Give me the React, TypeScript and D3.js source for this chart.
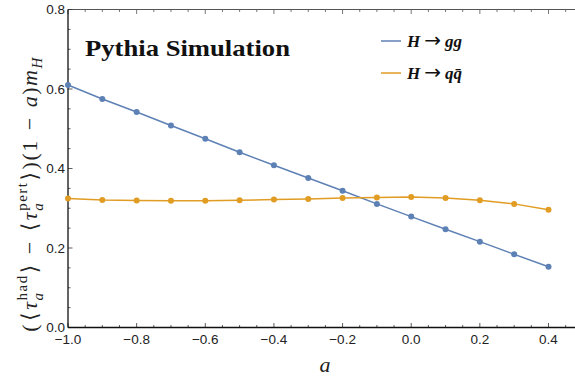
import React from "react";
import * as d3 from "d3";

const aValues = [-1.0, -0.9, -0.8, -0.7, -0.6, -0.5, -0.4, -0.3, -0.2, -0.1, 0.0, 0.1, 0.2, 0.3, 0.4];
const ggValues = [0.61, 0.575, 0.542, 0.508, 0.475, 0.441, 0.408, 0.376, 0.344, 0.311, 0.279, 0.247, 0.216, 0.184, 0.153];
const qqValues = [0.3245, 0.321, 0.3195, 0.319, 0.319, 0.32, 0.322, 0.323, 0.3255, 0.327, 0.328, 0.3255, 0.32, 0.311, 0.296];
const xTicks = [-1.0, -0.8, -0.6, -0.4, -0.2, 0.0, 0.2, 0.4];
const yTicks = [0.0, 0.2, 0.4, 0.6, 0.8];

const W = 575, H = 379;
const BLUE = "#5E81B5";
const ORANGE = "#E19C24";
const SERIF = "'Liberation Serif', 'DejaVu Serif', serif";
const SANS = "'Liberation Sans', Arial, sans-serif";

export default function App() {
  const x = d3.scaleLinear().domain([-1, 0.4]).range([68, 548.5]);
  const y = d3.scaleLinear().domain([0, 0.8]).range([327.5, 9.5]);
  const xRight = W;
  const xMinor = d3.range(-1, 0.481, 0.05).map(v => +v.toFixed(2));
  const yMinor = d3.range(0, 0.801, 0.05).map(v => +v.toFixed(2));
  const line = d3.line<number>().x((_, i) => x(aValues[i])).y(d => y(d));
  const isMajor = (v: number) => Math.abs(Math.round(v * 5) - v * 5) < 1e-6;
  const x0 = x(-1), y0 = y(0), yTop = y(0.8);

  const series = [
    { vals: ggValues, color: BLUE },
    { vals: qqValues, color: ORANGE },
  ];

  return (
    <svg width={W} height={H} style={{ position: "absolute", left: 0, top: 0, background: "#fff" }}>
      {/* top frame */}
      <line x1={x0} x2={xRight} y1={yTop} y2={yTop} stroke="#555" strokeWidth={1} />
      {xMinor.map((v, i) => (
        <line key={"tt" + i} x1={x(v)} x2={x(v)} y1={yTop} y2={yTop + (isMajor(v) ? 4.5 : 2.5)} stroke="#555" strokeWidth={0.8} />
      ))}
      {/* bottom axis */}
      {xMinor.map((v, i) => (
        <line key={"bt" + i} x1={x(v)} x2={x(v)} y1={y0} y2={y0 - (isMajor(v) ? 4.5 : 2.5)} stroke="#333" strokeWidth={0.8} />
      ))}
      {/* left axis ticks */}
      {yMinor.map((v, i) => (
        <line key={"lt" + i} x1={x0} x2={x0 + (isMajor(v) ? 4.5 : 2.5)} y1={y(v)} y2={y(v)} stroke="#333" strokeWidth={0.8} />
      ))}
      <line x1={x0} x2={xRight} y1={y0} y2={y0} stroke="#111" strokeWidth={1.3} />
      <line x1={x0} x2={x0} y1={yTop} y2={y0} stroke="#111" strokeWidth={1.3} />
      {/* tick labels */}
      {xTicks.map((v, i) => (
        <text key={"xl" + i} x={x(v)} y={y0 + 16.5} textAnchor="middle" fontFamily={SANS} fontSize={13.5} fill="#222">
          {d3.format(".1f")(v).replace("-", "\u2212")}
        </text>
      ))}
      {yTicks.map((v, i) => (
        <text key={"yl" + i} x={x0 - 3} y={y(v) + 4.5} textAnchor="end" fontFamily={SANS} fontSize={13.5} fill="#222">
          {d3.format(".1f")(v)}
        </text>
      ))}
      {/* series */}
      {series.map((s, si) => (
        <g key={"s" + si}>
          <path d={line(s.vals) || ""} fill="none" stroke={s.color} strokeWidth={1.5} />
          {s.vals.map((d, i) => (
            <circle key={i} cx={x(aValues[i])} cy={y(d)} r={3} fill={s.color} />
          ))}
        </g>
      ))}
      {/* title */}
      <text x={85} y={56} fontFamily={SERIF} fontWeight="bold" fontSize={24} fill="#111" textLength={205} lengthAdjust="spacingAndGlyphs">Pythia Simulation</text>
      {/* legend */}
      <line x1={381} x2={401} y1={41} y2={41} stroke={BLUE} strokeWidth={1.5} />
      <text x={407} y={47} fontFamily={SERIF} fontSize={17} fontWeight="bold" fill="#111">
        <tspan fontStyle="italic">H</tspan><tspan dx={4} fontWeight="normal" fontFamily="'DejaVu Sans', sans-serif" fontSize={20}>→</tspan><tspan dx={4} fontStyle="italic">gg</tspan>
      </text>
      <line x1={381} x2={401} y1={73} y2={73} stroke={ORANGE} strokeWidth={1.5} />
      <text x={407} y={79} fontFamily={SERIF} fontSize={17} fontWeight="bold" fill="#111">
        <tspan fontStyle="italic">H</tspan><tspan dx={4} fontWeight="normal" fontFamily="'DejaVu Sans', sans-serif" fontSize={20}>→</tspan><tspan dx={4} fontStyle="italic">q{"q\u0304"}</tspan>
      </text>
      {/* x label */}
      <text x={325} y={372} textAnchor="middle" fontFamily={SERIF} fontStyle="italic" fontSize={22} fill="#222">a</text>
      {/* y label */}
      <text transform="translate(37,194) rotate(-90)" textAnchor="middle" fontFamily={SERIF} fontSize={22} fill="#222" letterSpacing={1.5}>
        <tspan>(</tspan>
        <tspan dx={2}>⟨</tspan>
        <tspan dx={1} fontStyle="italic">τ</tspan>
        <tspan fontStyle="italic" fontSize={15} dy={6}>a</tspan>
        <tspan fontSize={15} dx={-9} dy={-16}>had</tspan>
        <tspan dx={1} dy={10}>⟩</tspan>
        <tspan dx={9}>−</tspan>
        <tspan dx={9}>⟨</tspan>
        <tspan dx={1} fontStyle="italic">τ</tspan>
        <tspan fontStyle="italic" fontSize={15} dy={6}>a</tspan>
        <tspan fontSize={15} dx={-9} dy={-16}>pert</tspan>
        <tspan dx={1} dy={10}>⟩</tspan>
        <tspan dx={1}>)(1</tspan>
        <tspan dx={9}>−</tspan>
        <tspan dx={9} fontStyle="italic">a</tspan>
        <tspan>)</tspan>
        <tspan fontStyle="italic">m</tspan>
        <tspan fontStyle="italic" fontSize={15} dy={5}>H</tspan>
      </text>
    </svg>
  );
}
